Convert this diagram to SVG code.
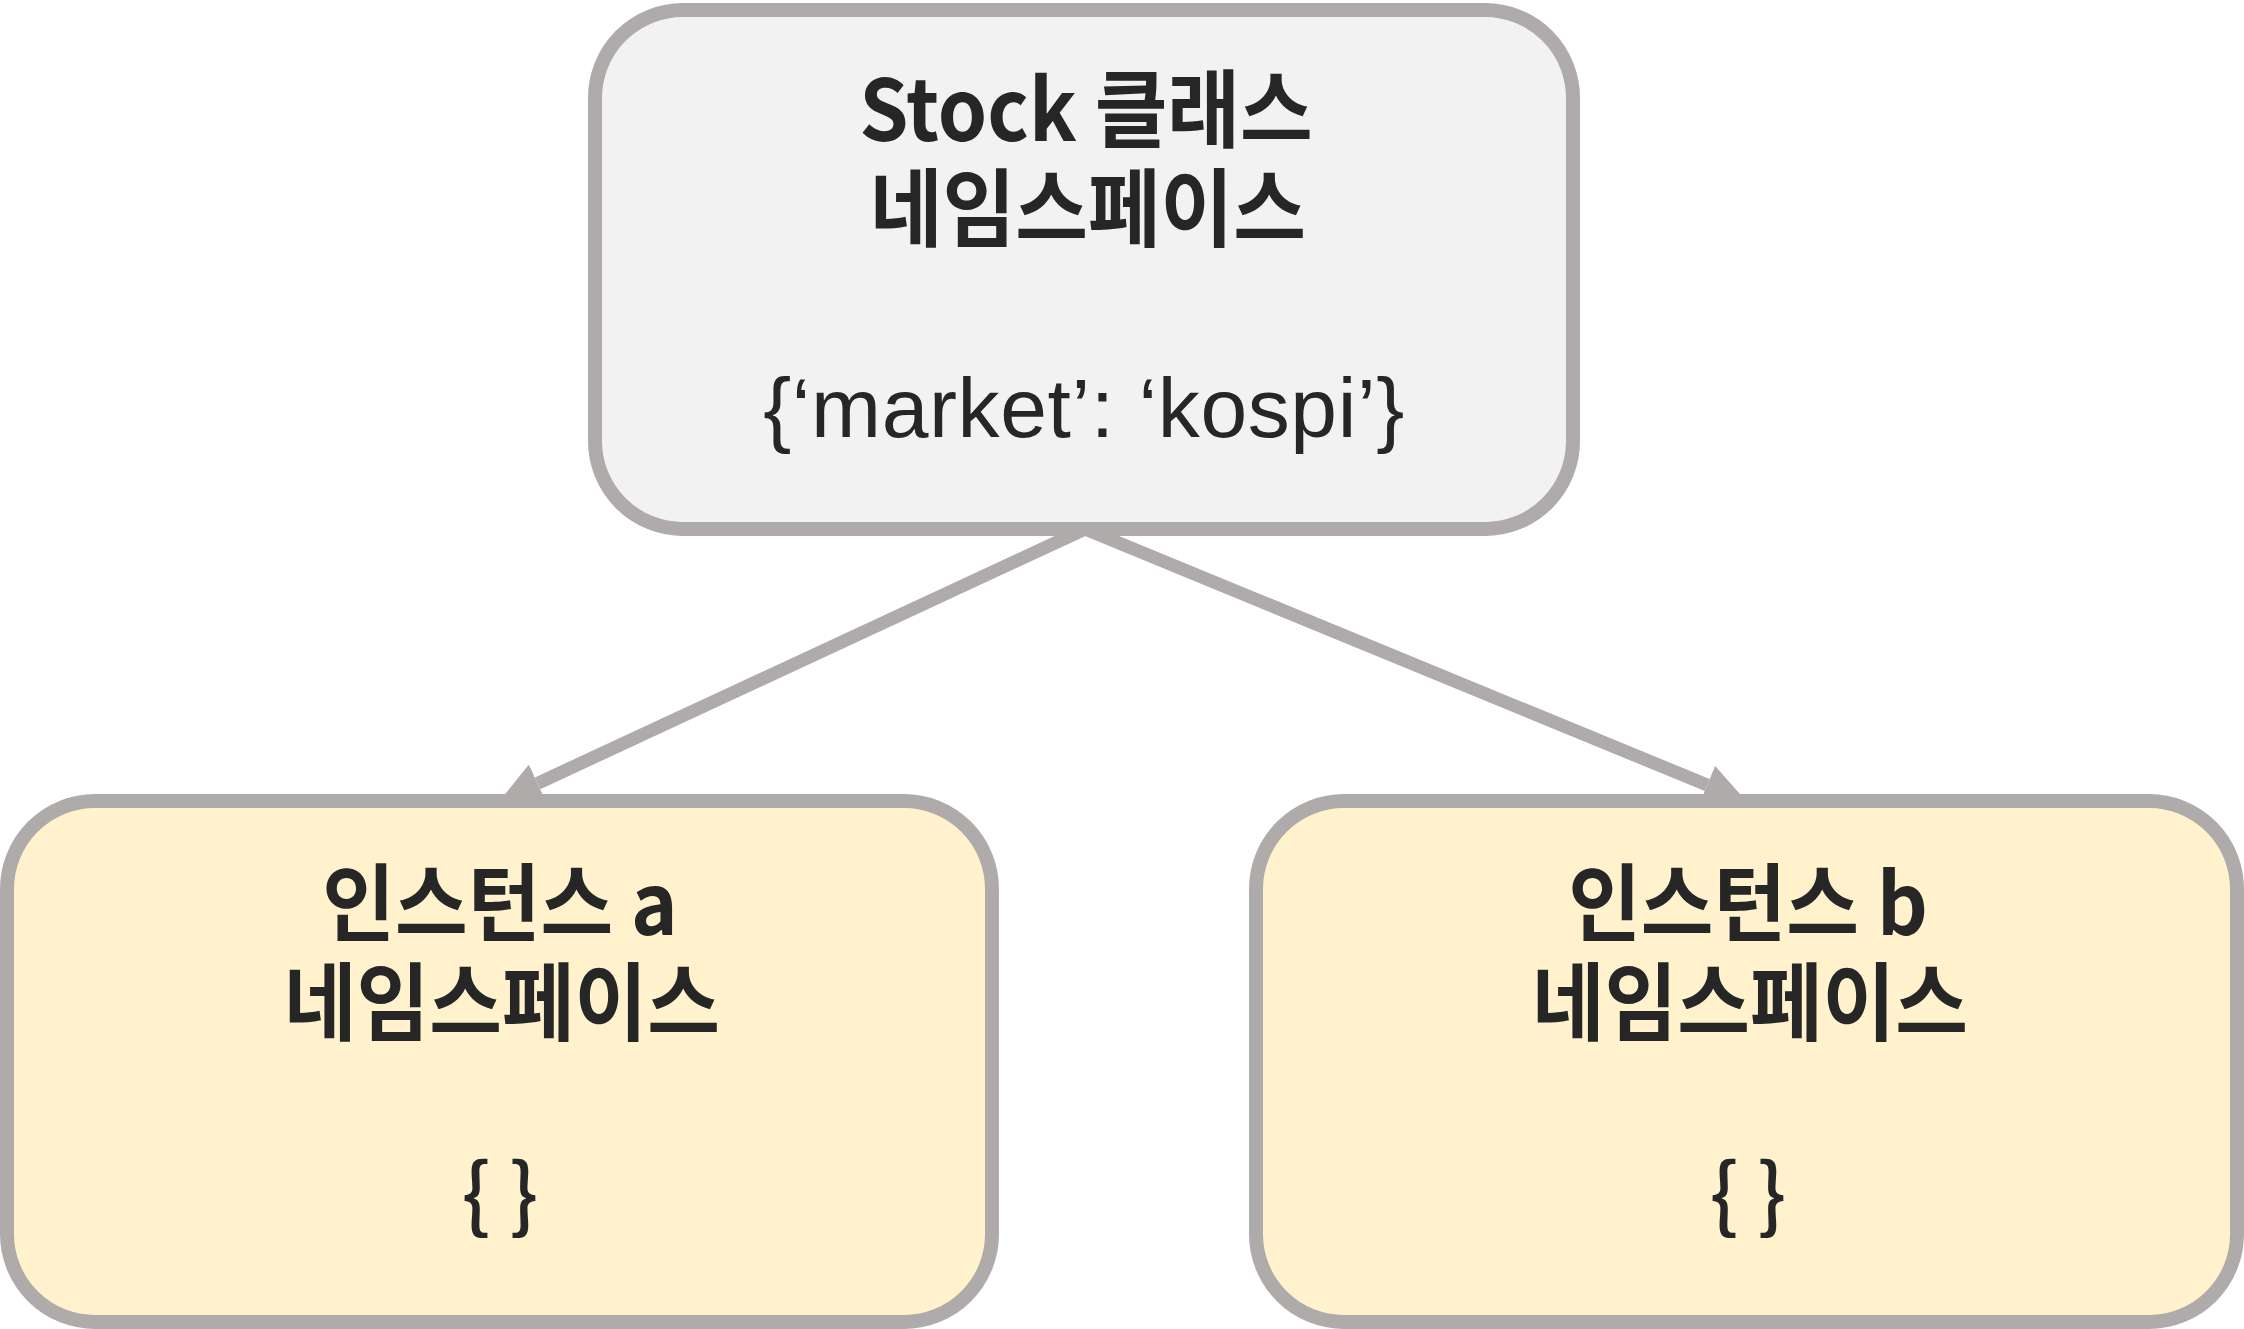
<svg xmlns="http://www.w3.org/2000/svg" width="2244" height="1329" viewBox="0 0 2244 1329">
<style>
.box{stroke:#afabaa;stroke-width:14}
.cls{fill:#f2f2f2}
.inst{fill:#fff2cd}
.t{font-family:"Noto Sans CJK KR","Liberation Sans",sans-serif;font-weight:700;font-size:85px;fill:#262626;text-anchor:middle}
.d{font-family:"Liberation Sans",Arial,sans-serif;font-size:84px;fill:#262626;text-anchor:middle;letter-spacing:0.6px}
.b{font-family:"Noto Sans CJK KR","Liberation Sans",sans-serif;font-weight:500;font-size:82px;fill:#262626;text-anchor:middle}
.conn{fill:none;stroke:#afabaa;stroke-width:13}
</style>
<defs>
<marker id="arr" markerUnits="userSpaceOnUse" viewBox="0 0 42 41.4" refX="0" refY="20.7" markerWidth="42" markerHeight="41.4" orient="auto">
<path d="M0,0 L42,20.7 L0,41.4 z" fill="#afabaa"/>
</marker>
</defs>
<g id="connectors">
<path class="conn" d="M1085,529 L537.6,783.3" marker-end="url(#arr)"/>
<path class="conn" d="M1085,529 L1707.2,785" marker-end="url(#arr)"/>
</g>
<g id="stock-class">
<rect class="box cls" x="595" y="10" width="978" height="519" rx="88" ry="88"/>
<text class="t" transform="translate(1086,0) scale(0.93,1)"><tspan x="0" y="141">Stock 클래스</tspan><tspan x="2" y="240">네임스페이스</tspan></text>
<text class="d" x="1084" y="437">{‘market’: ‘kospi’}</text>
</g>
<g id="instance-a">
<rect class="box inst" x="7" y="801" width="985" height="521" rx="88" ry="88"/>
<text class="t" transform="translate(500,0) scale(0.93,1)"><tspan x="0" y="935">인스턴스 a</tspan><tspan x="2" y="1034">네임스페이스</tspan></text>
<text class="b" x="500" y="1224">{ }</text>
</g>
<g id="instance-b">
<rect class="box inst" x="1256" y="801" width="981" height="521" rx="88" ry="88"/>
<text class="t" transform="translate(1748,0) scale(0.93,1)"><tspan x="0" y="935">인스턴스 b</tspan><tspan x="2" y="1034">네임스페이스</tspan></text>
<text class="b" x="1748" y="1224">{ }</text>
</g>
</svg>
